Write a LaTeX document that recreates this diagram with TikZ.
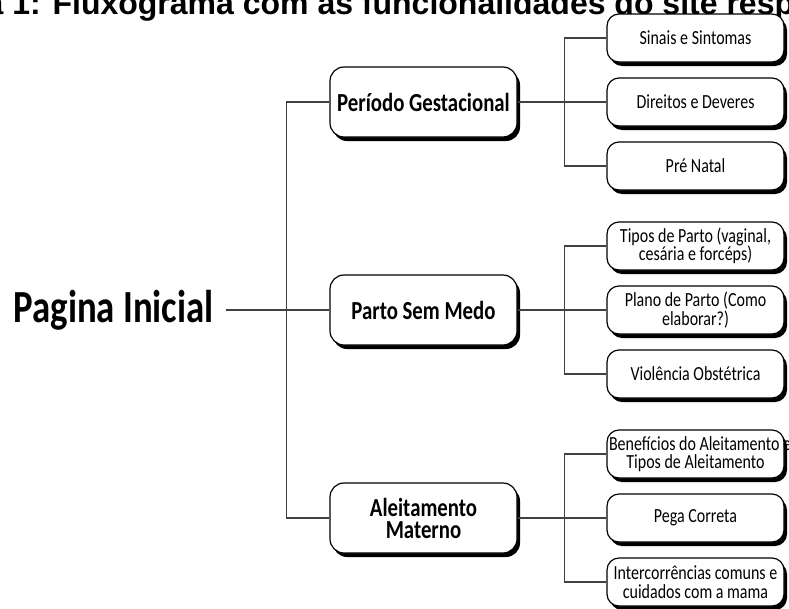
\documentclass[tikz,border=0pt]{standalone}
\usepackage{fontspec}
\setmainfont{Carlito}[FakeStretch=0.8]
\newfontfamily\titlefont{Liberation Sans}
\usetikzlibrary{shadows}
\begin{document}
\begin{tikzpicture}[x=1pt,y=-1pt,
  conn/.style={draw=black!75, line width=1.1pt},
  boxshadow/.style={drop shadow={shadow xshift=3pt, shadow yshift=-4pt, fill=black, opacity=1}},
  mainbox/.style={draw=black, line width=1.2pt, fill=white, rounded corners=14pt,
    minimum width=187pt, minimum height=70pt, align=center, inner xsep=2pt,
    font=\bfseries\fontsize{26}{22}\selectfont, boxshadow},
  subbox/.style={draw=black, line width=1.2pt, fill=white, rounded corners=12pt,
    minimum width=177pt, minimum height=48pt, align=center, inner xsep=3pt,
    font=\fontsize{20}{18.5}\selectfont, boxshadow}]
\useasboundingbox (0,0) rectangle (789,608);
\clip (0,0) rectangle (789,608);

\node[anchor=base west, inner sep=0, font=\titlefont\bfseries\fontsize{32}{32}\selectfont] (title) at (-14.6,14) {a 1: Fluxograma com as funcionalidades do site resp};

\node[anchor=base, inner xsep=12pt, inner ysep=0pt, font=\bfseries\fontsize{46}{46}\selectfont] (pag) at (113.5,322) {Pagina Inicial};

\node[mainbox] (p1) at (423.5,102) {Período Gestacional};
\node[mainbox] (p2) at (423.5,310) {Parto Sem Medo};
\node[mainbox] (p3) at (423.5,518) {Aleitamento\\Materno};

\node[subbox] (c11) at (695.5,38) {Sinais e Sintomas};
\node[subbox] (c12) at (695.5,102) {Direitos e Deveres};
\node[subbox] (c13) at (695.5,166) {Pré Natal};

\node[subbox] (c21) at (695.5,246) {Tipos de Parto (vaginal,\\cesária e forcéps)};
\node[subbox] (c22) at (695.5,310) {Plano de Parto (Como\\elaborar?)};
\node[subbox] (c23) at (695.5,374) {Violência Obstétrica};

\node[subbox] (c31) at (695.5,454) {\makebox[171pt][l]{\hspace{-1pt}Benefícios do Aleitamento e}\\Tipos de Aleitamento};
\node[subbox] (c32) at (695.5,518) {Pega Correta};
\node[subbox] (c33) at (695.5,582) {Intercorrências comuns e\\cuidados com a mama};

\draw[conn] (pag.east |- p2.west) -- (p2.west);
\draw[conn] (p1.west) -- ++(-43,0) |- (p3.west);

\draw[conn] (p1.east) -- (c12.west);
\draw[conn] (c11.west) -- ++(-42,0) |- (c13.west);
\draw[conn] (p2.east) -- (c22.west);
\draw[conn] (c21.west) -- ++(-42,0) |- (c23.west);
\draw[conn] (p3.east) -- (c32.west);
\draw[conn] (c31.west) -- ++(-42,0) |- (c33.west);
\end{tikzpicture}
\end{document}
